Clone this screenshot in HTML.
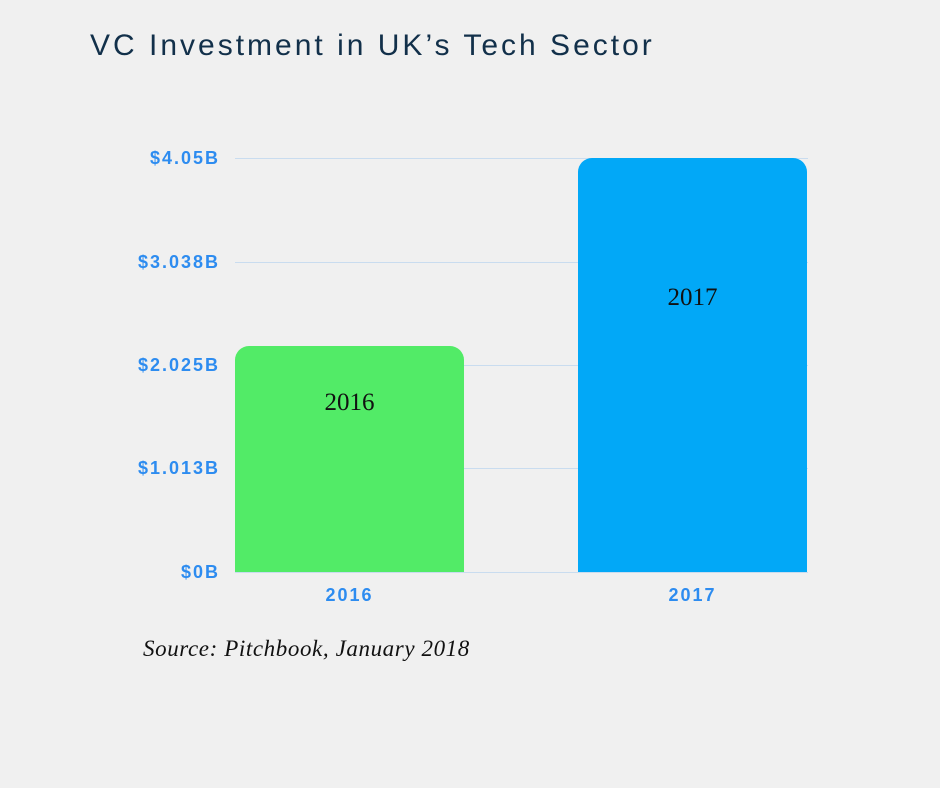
<!DOCTYPE html>
<html><head><style>
body{margin:0;background:#f0f0f0;width:940px;height:788px;position:relative;overflow:hidden;font-family:"Liberation Sans",sans-serif}
.t{position:absolute;left:90px;top:29px;font-size:30px;color:#12304a;letter-spacing:3px}
.g{position:absolute;left:235px;width:573px;height:1px;background:#c9dcef}
.y{position:absolute;right:720px;font-size:18px;color:#2d8cf0;font-weight:bold;letter-spacing:2px;line-height:20px}
.b{position:absolute;border-radius:14px 14px 0 0;text-align:center;font-family:"Liberation Serif",serif;font-size:25px;color:#111}
.x{position:absolute;font-size:18px;color:#2d8cf0;font-weight:bold;width:229px;text-align:center;top:585px;letter-spacing:2px}
.s{position:absolute;left:143px;top:636px;font-family:"Liberation Serif",serif;font-style:italic;font-size:23px;color:#111;letter-spacing:0.6px}
</style></head><body>
<div class="t">VC Investment in UK’s Tech Sector</div>
<div class="g" style="top:158px"></div>
<div class="g" style="top:262px"></div>
<div class="g" style="top:365px"></div>
<div class="g" style="top:468px"></div>
<div class="g" style="top:572px"></div>
<div class="y" style="top:148px">$4.05B</div>
<div class="y" style="top:252px">$3.038B</div>
<div class="y" style="top:355px">$2.025B</div>
<div class="y" style="top:458px">$1.013B</div>
<div class="y" style="top:562px">$0B</div>
<div class="b" style="left:235px;top:346px;width:229px;height:226px;background:#52eb67"><div style="margin-top:43px">2016</div></div>
<div class="b" style="left:578px;top:158px;width:229px;height:414px;background:#02a8f7"><div style="margin-top:126px">2017</div></div>
<div class="x" style="left:235px">2016</div>
<div class="x" style="left:578px">2017</div>
<div class="s">Source: Pitchbook, January 2018</div>
</body></html>
